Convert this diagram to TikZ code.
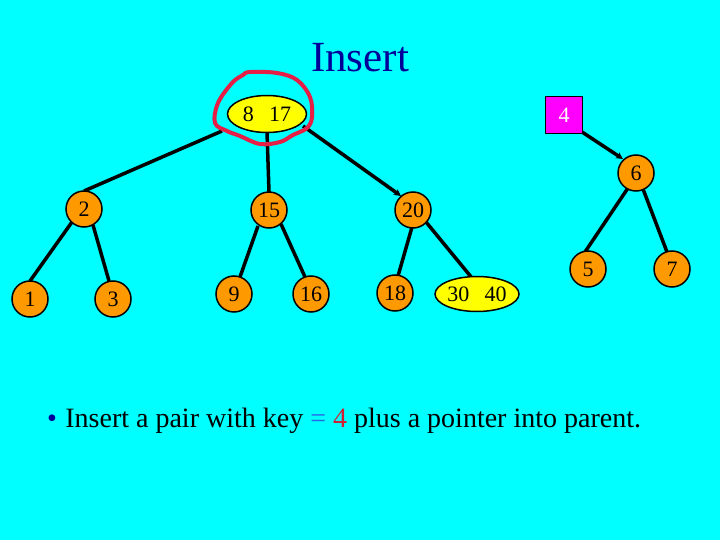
\documentclass[tikz,border=0pt]{standalone}
\usepackage{fontspec}
\setmainfont{Liberation Serif}
\usetikzlibrary{arrows.meta,shapes.geometric}
\definecolor{bg}{RGB}{0,255,255}
\definecolor{orangenode}{RGB}{255,153,0}
\definecolor{yellownode}{RGB}{255,255,0}
\definecolor{magbox}{RGB}{255,0,255}
\definecolor{loopred}{RGB}{230,30,70}
\definecolor{titleblue}{RGB}{0,0,153}
\definecolor{eqblue}{RGB}{40,100,230}
\definecolor{keyred}{RGB}{210,30,50}
\tikzset{
  cnode/.style={circle,draw=black,line width=1.5pt,fill=orangenode,minimum size=36pt,inner sep=0pt,font=\fontsize{22}{22}\selectfont},
  enode/.style={ellipse,draw=black,line width=1.5pt,fill=yellownode,inner sep=0pt,font=\fontsize{22}{22}\selectfont},
  bnode/.style={rectangle,draw=black,line width=1.5pt,fill=magbox,minimum size=37pt,inner sep=0pt,text=white,font=\fontsize{22}{22}\selectfont},
  edge/.style={line width=3.5pt,black},
  aedge/.style={line width=3.5pt,black,-{Stealth[length=7pt,width=7pt]}}
}
\begin{document}
\begin{tikzpicture}[x=1pt,y=-1pt]
\fill[bg] (0,0) rectangle (720,540);
\useasboundingbox (0,0) rectangle (720,540);
\node[text=titleblue,font=\fontsize{43}{43}\selectfont] (title) at (360,58) {Insert};
% coordinates for edge ends
\coordinate (rl) at (222,131);
\coordinate (rr) at (303,126);
% edges (drawn first so nodes cover them)
\draw[edge] (rl) -- (84,191) coordinate (n2top);
\draw[edge] (267,132) -- (269,192);
\draw[aedge] (rr) -- (401,196);
\draw[aedge] (582,132) -- (623,159);
\draw[edge] (72,222) -- (30,281);
\draw[edge] (93,225) -- (109,281);
\draw[edge] (258,226) -- (240,277);
\draw[edge] (281,224) -- (305,277);
\draw[edge] (412,227) -- (398,276);
\draw[edge] (426,222) -- (472,278);
\draw[edge] (628,188) -- (585,252);
\draw[edge] (643,189) -- (667,252);
% nodes
\node[enode,minimum width=79pt,minimum height=37pt] (root) at (267,114) {8\hspace{0.7em}17};
\node[cnode] (n2) at (84,209) {2};
\node[cnode] (n15) at (269,210) {15};
\node[cnode] (n20) at (413,210) {20};
\node[cnode] (n6) at (636,173) {6};
\node[cnode] (n1) at (30,299) {1};
\node[cnode] (n3) at (113,299) {3};
\node[cnode] (n9) at (234,294) {9};
\node[cnode] (n16) at (311,294) {16};
\node[cnode] (n18) at (395,293) {18};
\node[enode,minimum width=78pt,minimum height=35pt] (n3040) at (477,294) {30\hspace{0.7em}40};
\node[cnode] (n5) at (588,269) {5};
\node[cnode] (n7) at (672,269) {7};
\node[bnode] (b4) at (564,115) {4};
% red freehand loop
\draw[loopred,line width=4pt,line cap=round] plot[smooth cycle,tension=0.6] coordinates {
 (250,72) (277,73) (297,80) (310,97) (312,117) (307,128) (293,135) (280,142)
 (260,144) (240,136) (227,131) (215,123) (218,103) (232,83) (243,75)};
% bullet text
\node[anchor=base west,font=\fontsize{28}{28}\selectfont,inner sep=0pt] (txt) at (47,427)
 {{\color{titleblue}\textbullet}\hspace{0.3em}Insert a pair with key {\color{eqblue}=} {\color{keyred}4} plus a pointer into parent.};
\end{tikzpicture}
\end{document}
